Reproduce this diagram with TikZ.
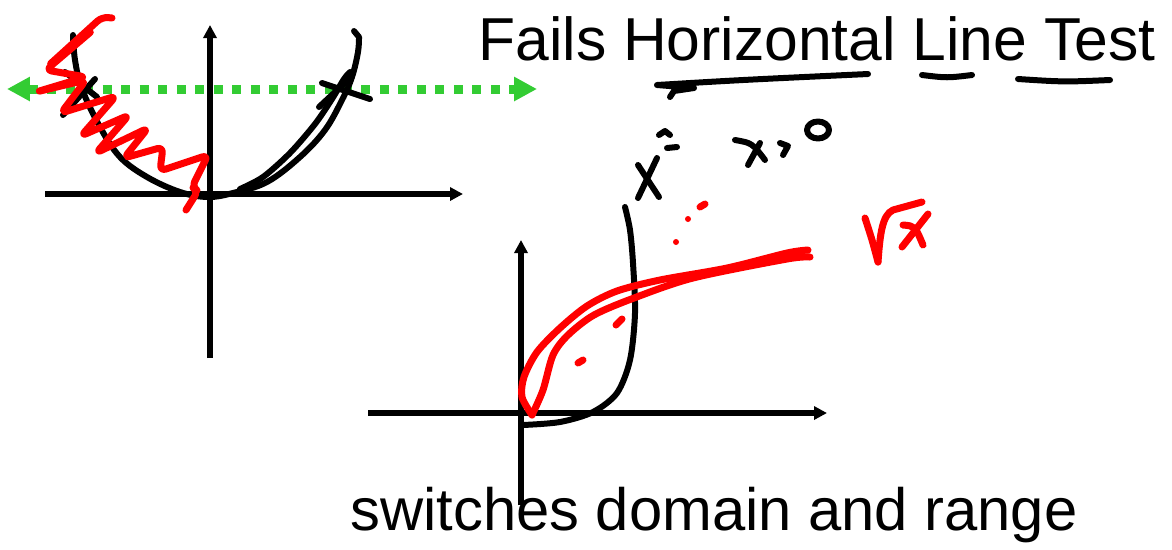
\documentclass[tikz,border=0pt]{standalone}
\usepackage{fontspec}
\setmainfont{Liberation Sans}
\usetikzlibrary{arrows.meta}
\definecolor{penRed}{HTML}{FF0000}
\definecolor{testGreen}{HTML}{33CC33}

\begin{document}
\begin{tikzpicture}[
    x=0.02cm, y=-0.02cm,
    axis/.style={line width=0.11cm, -{Triangle[length=0.26cm, width=0.26cm]}},
    pen/.style={line width=0.12cm, line cap=round, line join=round},
    redpen/.style={pen, draw=penRed, line width=0.14cm},
    hline/.style={draw=testGreen, line width=0.18cm, dash pattern=on 0.18cm off 0.19cm,
                  {Triangle[length=0.46cm, width=0.46cm]}-{Triangle[length=0.46cm, width=0.46cm]}},
    title/.style={anchor=base west, inner sep=0pt, font=\fontsize{34}{40}\selectfont},
  ]
    \useasboundingbox (0,0) rectangle (1172,549);

    \node[title, font=\fontsize{34.5}{40}\selectfont] (fails) at (478,60) {Fails Horizontal Line Test};
    \node[title] (swap) at (350,530) {switches domain and range};

    % x^2 on all reals
    \coordinate (ax1w) at (45,194);
    \coordinate (ax1e) at (463,194);
    \coordinate (ax1s) at (210,358);
    \coordinate (ax1n) at (210,25);
    \draw[axis] (ax1w) -- (ax1e);
    \draw[axis] (ax1s) -- (ax1n);

    \coordinate (hl) at (7,89);
    \coordinate (hr) at (537,89);
    \draw[hline] (hl) -- (hr);

    \draw[pen] plot[smooth, tension=0.6] coordinates {(73,35) (75,60) (82,89) (100,127)
      (120,157) (147,177) (180,192) (208,197) (233,193) (267,182) (300,157) (325,130)
      (342,100) (352,77) (358,52) (359,37)} -- (354,31);
    \draw[pen] plot[smooth] coordinates {(240,189) (263,177) (290,153) (315,124)
      (332,99) (344,79) (350,72)};
    \draw[pen] (65,72) -- (97,97);
    \draw[pen] (95,79) -- (63,115);
    \draw[pen] (322,83) -- (370,99);
    \draw[pen] (319,107) -- (348,80);

    \draw[redpen, rounded corners=0.12cm] (112,18) -- (102,17) -- (48,66) -- (93,30)
      -- (46,70) -- (86,77) -- (36,92) -- (86,80) -- (61,113) -- (116,96) -- (81,136)
      -- (129,115) -- (96,153) -- (148,128) -- (124,158) -- (163,147) -- (160,171)
      -- (208,155) -- (192,187) -- (198,191) -- (186,210);

    % x >= 0 and the inverse
    \coordinate (ax2w) at (368,413);
    \coordinate (ax2e) at (827,413);
    \coordinate (ax2s) at (521,505);
    \coordinate (ax2n) at (521,240);
    \draw[axis] (ax2w) -- (ax2e);
    \draw[axis] (ax2s) -- (ax2n);

    \draw[pen] plot[smooth] coordinates {(523,425) (560,422) (593,412) (617,393)
      (630,360) (635,313) (633,263) (630,230) (625,207)};

    \draw[redpen] plot[smooth] coordinates {(808,250) (787,253) (727,268) (660,280)
      (617,291) (587,306) (560,328) (537,352) (524,377) (522,397) (532,415)};
    \draw[redpen] plot[smooth] coordinates {(532,415) (543,390) (553,355) (568,335)
      (594,315) (634,298) (693,278) (787,259) (810,257)};
    \draw[redpen] (578,363) -- (583,360);
    \draw[redpen] (616,325) -- (622,319);
    \fill[penRed] (676,242) circle [radius=0.06cm];
    \fill[penRed] (688,219) circle [radius=0.06cm];
    \draw[redpen] (700,207) -- (705,204);

    % handwriting
    \draw[pen] (638,165) -- (659,197);
    \draw[pen] (657,158) -- (638,198);
    \draw[pen] (659,135) -- (665,131) -- (670,135);
    \draw[pen] (667,148) -- (677,147);
    \draw[pen] (735,140) .. controls (752,143) .. (765,160);
    \draw[pen] (760,143) -- (748,165);
    \draw[pen] (780,143) -- (788,146) -- (783,155);
    \draw[pen] (818,130) ellipse [x radius=0.22cm, y radius=0.17cm];

    \draw[redpen] plot[smooth] coordinates {(865,218) (872,240) (878,262)};
    \draw[redpen] (878,262) .. controls (880,235) and (882,215) .. (893,210) -- (922,202);
    \draw[redpen] (903,225) .. controls (915,226) .. (923,245);
    \draw[redpen] (928,214) -- (902,247);

    % underlines
    \draw[pen] (670,97) -- (674,91) -- (694,88) -- (657,85) .. controls (740,80) .. (868,74);
    \draw[pen] (922,75) .. controls (947,78) .. (972,75);
    \draw[pen] (1018,79) .. controls (1064,82) .. (1110,80);
  \end{tikzpicture}
\end{document}
